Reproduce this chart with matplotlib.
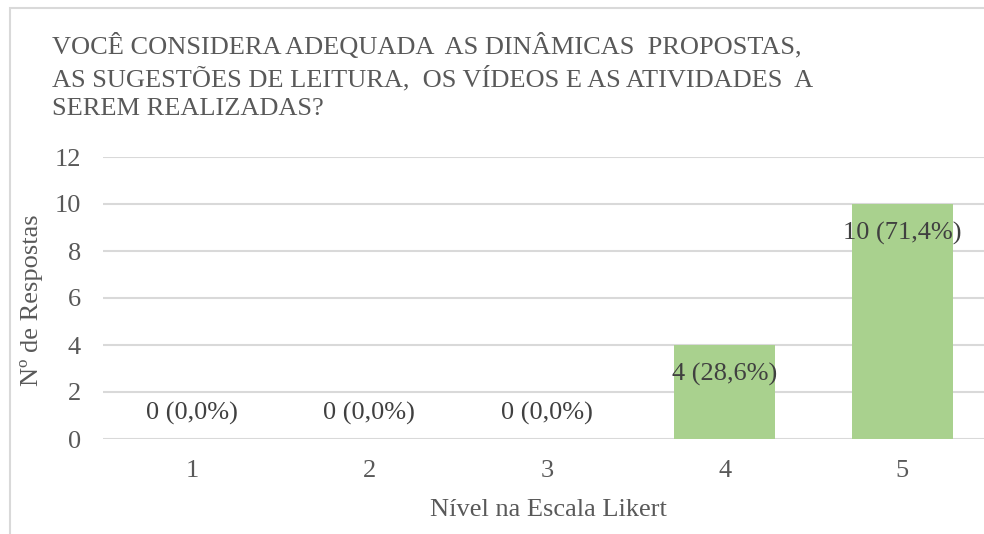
import matplotlib.pyplot as plt
from matplotlib.patches import Rectangle

plt.rcParams['font.family'] = 'serif'
plt.rcParams['font.serif'] = ['Liberation Serif', 'DejaVu Serif']

niveis = ['1', '2', '3', '4', '5']
respostas = [0, 0, 0, 4, 10]
rotulos = ['0 (0,0%)', '0 (0,0%)', '0 (0,0%)', '4 (28,6%)', '10 (71,4%)']
titulo = ('VOCÊ CONSIDERA ADEQUADA  AS DINÂMICAS  PROPOSTAS,\n'
          'AS SUGESTÕES DE LEITURA,  OS VÍDEOS E AS ATIVIDADES  A\n'
          'SEREM REALIZADAS?')

W, H = 984, 534
fig = plt.figure(figsize=(W / 100, H / 100), dpi=100)

# moldura cinza do gráfico
fig.patches.append(Rectangle((10 / W, -0.1), 1.2, (H - 8) / H + 0.1,
                             transform=fig.transFigure, fill=False,
                             edgecolor='#d9d9d9', linewidth=1.5))

ax = fig.add_axes([103 / W, (H - 439) / H, (991 - 103) / W, (439 - 157) / H])
x = list(range(len(niveis)))
ax.bar(x, respostas, width=0.57, color='#a9d18e', zorder=3)

for xi, v, r in zip(x, respostas, rotulos):
    y = v - 1.25 if v > 0 else 1.1
    ax.text(xi, y, r, ha='center', va='center', fontsize=19, color='#404040', zorder=4)

ax.set_xlim(-0.5, 4.5)
ax.set_ylim(0, 12)
ax.set_yticks(range(0, 13, 2))
ax.set_xticks(x)
ax.set_xticklabels(niveis)
ax.grid(axis='y', color='#d9d9d9', linewidth=1.5, zorder=0)
for s in ax.spines.values():
    s.set_visible(False)
ax.tick_params(length=0, labelsize=19, labelcolor='#595959', pad=16)
ax.tick_params(axis='x', pad=15)

fig.text(32 / W, 1 - 300 / H, 'Nº de Respostas', rotation=90, ha='center', va='center',
         fontsize=19, color='#595959')
fig.text(548 / W, 1 - 510 / H, 'Nível na Escala Likert', ha='center', va='center',
         fontsize=19, color='#595959')
fig.text(52 / W, 1 - 33 / H, titulo, ha='left', va='top', fontsize=19,
         color='#595959', linespacing=1.36)

fig.savefig('out.png', dpi=100)
